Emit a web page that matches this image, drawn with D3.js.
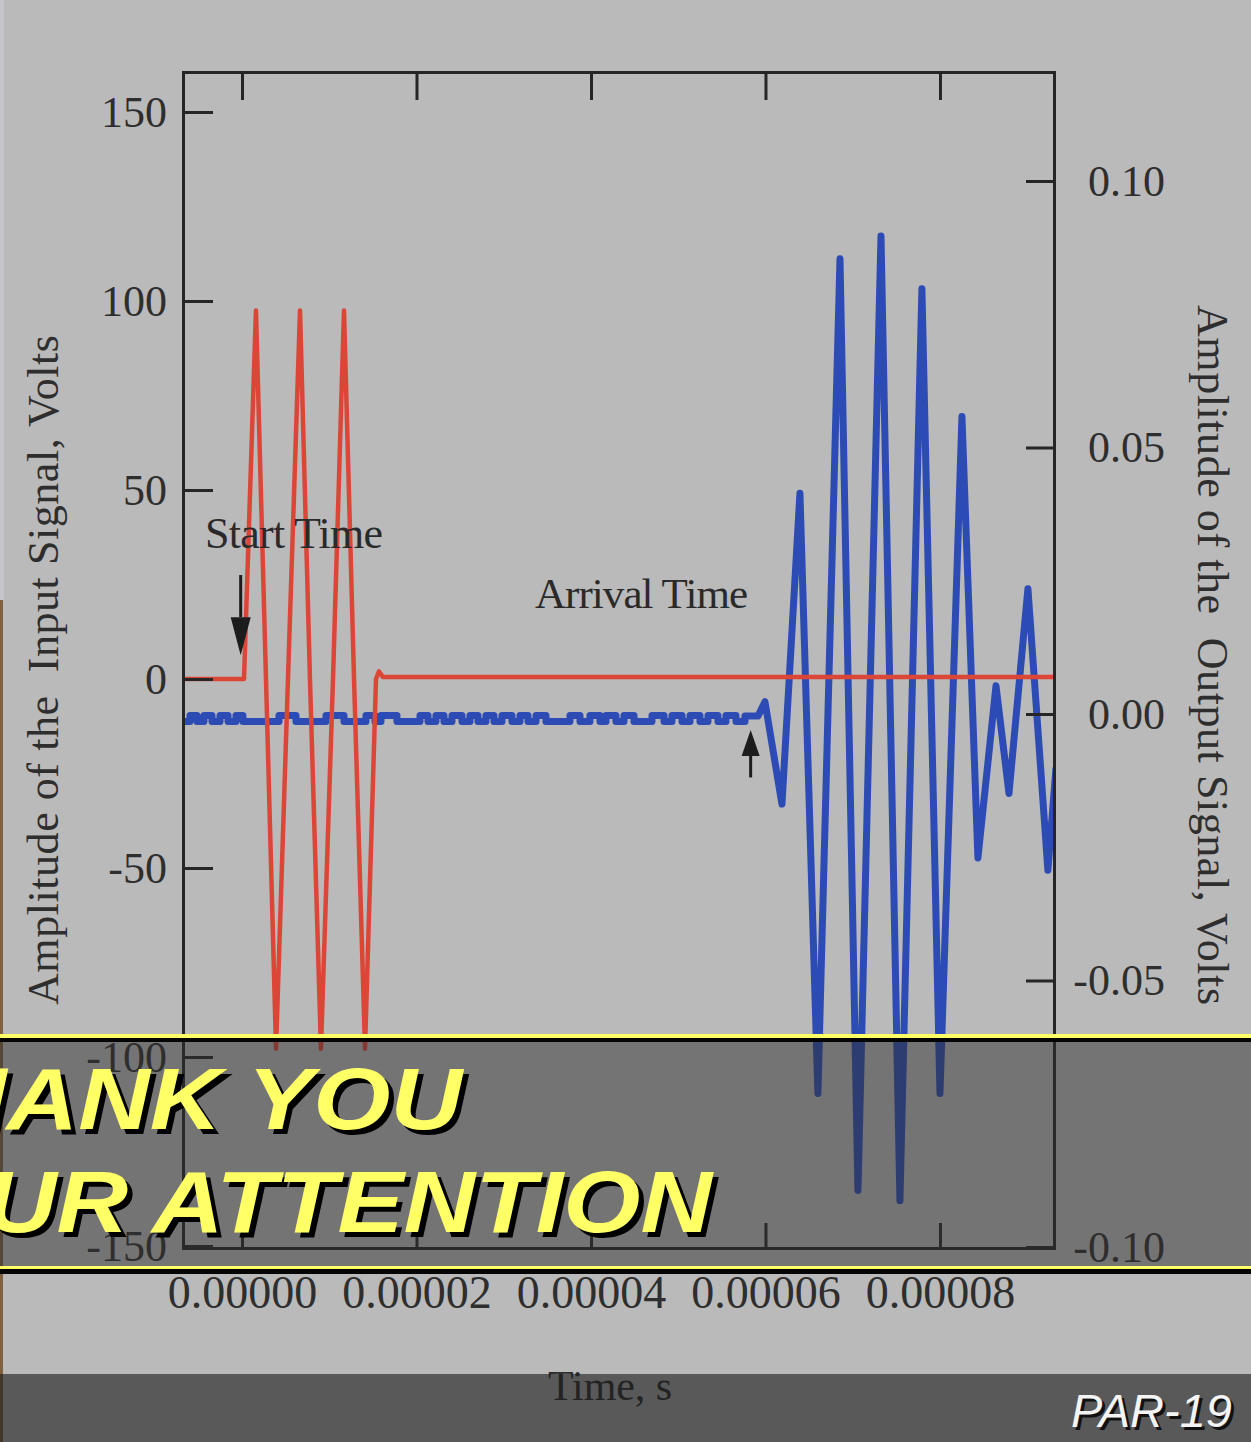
<!DOCTYPE html>
<html>
<head>
<meta charset="utf-8">
<script src="https://cdn.jsdelivr.net/npm/d3@7"></script>
<style>
  html, body { margin: 0; padding: 0; background: #bababa; overflow: hidden; }
  svg { display: block; }
</style>
</head>
<body>
<svg id="chart" width="1251" height="1442"></svg>
<script>
// ---- Input signal (left axis, volts); time in microseconds ----
const inputTimeUs = [-6.76, 0.23, 1.60, 2.75, 3.90, 5.27, 6.65, 7.79, 9.05, 10.43, 11.69, 12.84, 14.10, 15.36, 15.70, 16.16, 93.1];
const inputVolts  = [0, 0, 97.5, 0, -97.8, 0, 97.5, 0, -97.8, 0, 97.5, 0, -97.8, 0, 2.0, 0.5, 0.5];

// ---- Output signal (right axis, volts) ----
// quiet baseline before arrival: low level with short raised pulses
const outputBaseLow  = -0.0014;
const outputBaseHigh = -0.0003;
const basePulseStartUs = [-5.96, -4.36, -2.52, -0.69, 4.24, 9.63, 14.21, 15.93, 20.40, 22.23, 24.07, 26.13, 27.96, 29.80, 31.86, 33.70, 37.59, 39.88, 41.72, 43.78, 46.99, 49.28, 51.35, 53.41, 55.47];
const basePulseEndUs   = [-5.16, -3.44, -1.60, 0.11, 6.19, 11.69, 15.24, 17.76, 21.32, 23.15, 25.21, 27.05, 28.88, 30.94, 32.78, 34.84, 38.74, 41.03, 42.86, 44.93, 48.37, 50.43, 52.49, 54.55, 56.62];
// received burst
const burstTimeUs = [57.65, 57.65, 59.14, 59.94, 61.89, 63.95, 66.01, 68.54, 70.60, 73.24, 75.41, 77.93, 80.00, 82.52, 84.35, 86.42, 87.91, 90.08, 92.37, 93.29];
const burstVolts  = [-0.0014, -0.0004, -0.0004, 0.0023, -0.0169, 0.0414, -0.0712, 0.0854, -0.0894, 0.0897, -0.0913, 0.0798, -0.0712, 0.0558, -0.0270, 0.0053, -0.0149, 0.0235, -0.0293, -0.0103];

// ---- Axes ----
const timeTicks      = [0, 0.00002, 0.00004, 0.00006, 0.00008];
const timeTickLabels = ["0.00000", "0.00002", "0.00004", "0.00006", "0.00008"];
const inputTicks      = [150, 100, 50, 0, -50, -100, -150];
const inputTickLabels = ["150", "100", "50", "0", "-50", "-100", "-150"];
const outputTicks      = [0.10, 0.05, 0.00, -0.05, -0.10];
const outputTickLabels = ["0.10", "0.05", "0.00", "-0.05", "-0.10"];

// ---- Annotations ----
const startTimeUs = -0.15, startArrowVolts = [27.5, 6.3];
const arrivalTimeUs = 58.3, arrivalArrowVolts = [-0.0119, -0.0030];

const svg = d3.select("#chart");
const L = 183, R = 1054, T = 72, B = 1248;

const x = d3.scaleLinear().domain([-6.762e-6, 9.307e-5]).range([L, R]);
const yIn = d3.scaleLinear().domain([-150.53, 160.58]).range([B, T]);
const yOut = d3.scaleLinear().domain([-0.10019, 0.12045]).range([B, T]);

const serif = "'Liberation Serif', 'Times New Roman', serif";
const ink = "#262626";

// page background and worn left edge
svg.append("rect").attr("width", 1251).attr("height", 1442).attr("fill", "#bababa");
svg.append("rect").attr("x", 0).attr("y", 0).attr("width", 4).attr("height", 600).attr("fill", "#c4c5cb");
svg.append("rect").attr("x", 0).attr("y", 600).attr("width", 3).attr("height", 842).attr("fill", "#7d6141");

// clip for the traces
svg.append("defs").append("clipPath").attr("id", "plotClip")
  .append("rect").attr("x", L).attr("y", T).attr("width", R - L).attr("height", B - T);

// output trace
const outPts = [{ t: -6.762, v: outputBaseLow }];
basePulseStartUs.forEach((s, i) => {
  const e = basePulseEndUs[i];
  outPts.push({ t: s, v: outputBaseLow }, { t: s, v: outputBaseHigh },
              { t: e, v: outputBaseHigh }, { t: e, v: outputBaseLow });
});
burstTimeUs.forEach((t, i) => outPts.push({ t, v: burstVolts[i] }));

const traces = svg.append("g").attr("clip-path", "url(#plotClip)");
traces.append("path")
  .datum(outPts)
  .attr("d", d3.line().x(d => x(d.t * 1e-6)).y(d => yOut(d.v)))
  .attr("fill", "none").attr("stroke", "#2d4bb5").attr("stroke-width", 7)
  .attr("stroke-linejoin", "round").attr("stroke-linecap", "round");

// input trace
const inPts = inputTimeUs.map((t, i) => ({ t, v: inputVolts[i] }));
traces.append("path")
  .datum(inPts)
  .attr("d", d3.line().x(d => x(d.t * 1e-6)).y(d => yIn(d.v)))
  .attr("fill", "none").attr("stroke", "#db4637").attr("stroke-width", 4.5)
  .attr("stroke-linejoin", "round").attr("stroke-linecap", "round");

// axes
function styleAxis(g) {
  g.select(".domain").attr("stroke", ink).attr("stroke-width", 3).attr("stroke-linecap", "square");
  g.selectAll(".tick line").attr("stroke", ink).attr("stroke-width", 3);
  g.selectAll(".tick text").attr("font-family", serif).attr("font-size", 44).attr("fill", "#2e2e2e");
}

svg.append("g").attr("transform", `translate(${L},0)`)
  .call(d3.axisLeft(yIn).tickValues(inputTicks).tickFormat((d, i) => inputTickLabels[i])
        .tickSize(-30).tickSizeOuter(0).tickPadding(16))
  .call(styleAxis);

const rAxis = svg.append("g").attr("transform", `translate(${R},0)`)
  .call(d3.axisRight(yOut).tickValues(outputTicks).tickFormat((d, i) => outputTickLabels[i])
        .tickSize(-28).tickSizeOuter(0))
  .call(styleAxis);
rAxis.selectAll(".tick text").attr("text-anchor", "end").attr("x", 111);

const bAxis = svg.append("g").attr("transform", `translate(0,${B})`)
  .call(d3.axisBottom(x).tickValues(timeTicks).tickFormat((d, i) => timeTickLabels[i])
        .tickSize(-25).tickSizeOuter(0))
  .call(styleAxis);
bAxis.selectAll(".tick text").attr("y", 60).attr("dy", null).attr("font-size", 46);

svg.append("g").attr("transform", `translate(0,${T})`)
  .call(d3.axisTop(x).tickValues(timeTicks).tickFormat(() => "")
        .tickSize(-28).tickSizeOuter(0))
  .call(styleAxis);

// axis titles
svg.append("text")
  .attr("transform", "translate(58,670) rotate(-90)")
  .attr("text-anchor", "middle").attr("font-family", serif).attr("font-size", 44)
  .attr("fill", "#2e2e2e").attr("textLength", 670).attr("xml:space", "preserve")
  .text("Amplitude of the  Input Signal, Volts");

svg.append("text")
  .attr("transform", "translate(1198,655) rotate(90)")
  .attr("text-anchor", "middle").attr("font-family", serif).attr("font-size", 44)
  .attr("fill", "#2e2e2e").attr("textLength", 700).attr("xml:space", "preserve")
  .text("Amplitude of the  Output Signal, Volts");

svg.append("text")
  .attr("x", 610).attr("y", 1400)
  .attr("text-anchor", "middle").attr("font-family", serif).attr("font-size", 42)
  .attr("fill", "#2e2e2e").attr("textLength", 124)
  .text("Time, s");

// annotations
svg.append("text").attr("x", 205).attr("y", 548)
  .attr("font-family", serif).attr("font-size", 44).attr("fill", "#2a2a2a")
  .attr("textLength", 178).text("Start Time");
svg.append("text").attr("x", 535).attr("y", 608)
  .attr("font-family", serif).attr("font-size", 43).attr("fill", "#2a2a2a")
  .attr("textLength", 213).text("Arrival Time");

function arrow(xp, yTail, yTip, headW, headH) {
  const dir = Math.sign(yTip - yTail);
  const yBase = yTip - dir * headH;
  svg.append("line").attr("x1", xp).attr("x2", xp).attr("y1", yTail).attr("y2", yBase)
    .attr("stroke", "#1c1c1c").attr("stroke-width", 3);
  svg.append("path")
    .attr("d", `M${xp - headW / 2},${yBase} L${xp + headW / 2},${yBase} L${xp},${yTip} Z`)
    .attr("fill", "#1c1c1c");
}
arrow(x(startTimeUs * 1e-6), yIn(startArrowVolts[0]), yIn(startArrowVolts[1]), 20, 38);
arrow(x(arrivalTimeUs * 1e-6), yOut(arrivalArrowVolts[0]), yOut(arrivalArrowVolts[1]), 18, 26);

// closing banner across the lower part
svg.append("rect").attr("x", 0).attr("y", 1042).attr("width", 1251).attr("height", 224)
  .attr("fill", "rgba(45,45,45,0.5)");
svg.append("rect").attr("x", 0).attr("y", 1034).attr("width", 1251).attr("height", 4).attr("fill", "#ffff66");
svg.append("rect").attr("x", 0).attr("y", 1038).attr("width", 1251).attr("height", 4).attr("fill", "#050505");
svg.append("rect").attr("x", 0).attr("y", 1266).attr("width", 1251).attr("height", 3).attr("fill", "#ffff66");
svg.append("rect").attr("x", 0).attr("y", 1269).attr("width", 1251).attr("height", 5).attr("fill", "#050505");

const sans = "'Liberation Sans', Arial, sans-serif";
function bannerLine(str, xEnd, yBase) {
  const g = svg.append("g").attr("transform", `translate(${xEnd},${yBase}) scale(1.14,1)`);
  [[4.5, 5, "#000"], [0, 0, "#ffff66"]].forEach(([dx, dy, c]) => {
    g.append("text").attr("x", dx).attr("y", dy)
      .attr("text-anchor", "end").attr("font-family", sans).attr("font-size", 87)
      .attr("font-weight", "bold").attr("font-style", "italic").attr("fill", c)
      .text(str);
  });
}
bannerLine("THANK YOU", 462, 1129);
bannerLine("FOR YOUR ATTENTION", 712, 1232);

// footer strip
svg.append("rect").attr("x", 0).attr("y", 1374).attr("width", 1251).attr("height", 68)
  .attr("fill", "rgba(30,30,30,0.615)");
[[3, 3, "#111"], [0, 0, "#f4f4f4"]].forEach(([dx, dy, c]) => {
  svg.append("text").attr("x", 1232 + dx).attr("y", 1427 + dy)
    .attr("text-anchor", "end").attr("font-family", sans).attr("font-size", 47)
    .attr("font-style", "italic").attr("fill", c).text("PAR-19");
});
</script>
</body>
</html>
